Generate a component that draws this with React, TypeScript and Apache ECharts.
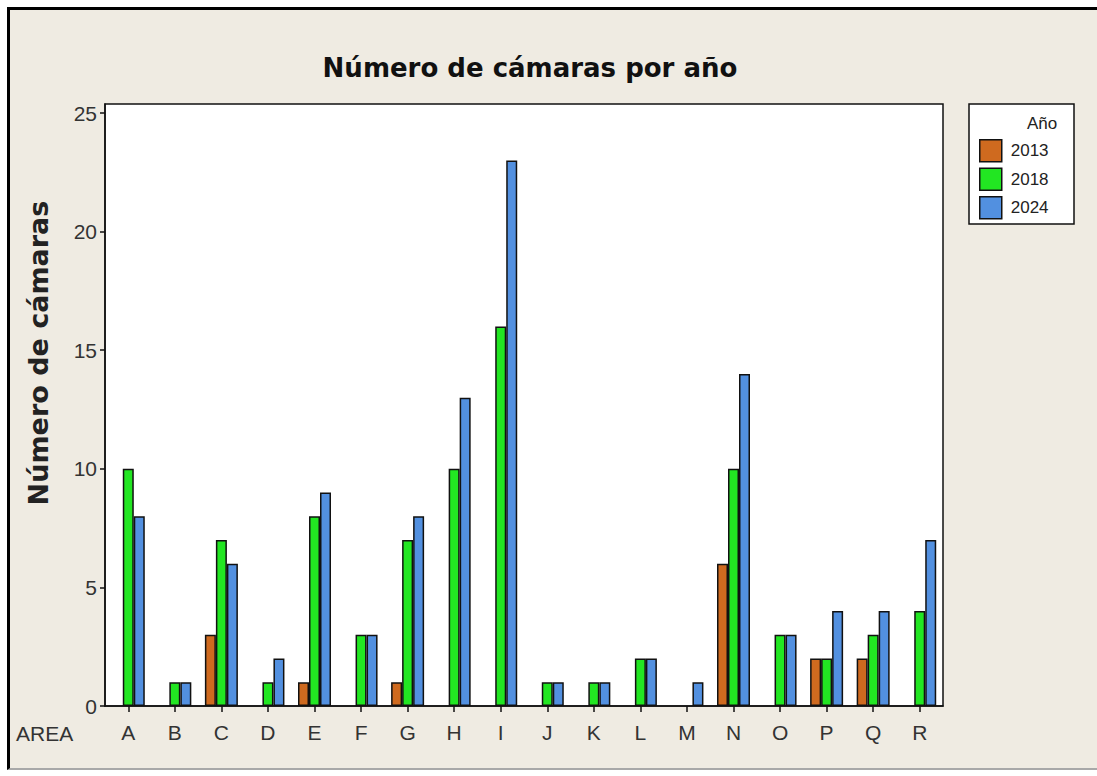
import React, { useEffect, useRef } from "react";
import * as echarts from "echarts";

const areas = ["A", "B", "C", "D", "E", "F", "G", "H", "I", "J", "K", "L", "M", "N", "O", "P", "Q", "R"];
const years = ["2013", "2018", "2024"];
const v2013 = [null, null, 3, null, 1, null, 1, null, null, null, null, null, null, 6, null, 2, 2, null];
const v2018 = [10, 1, 7, 1, 8, 3, 7, 10, 16, 1, 1, 2, null, 10, 3, 2, 3, 4];
const v2024 = [8, 1, 6, 2, 9, 3, 8, 13, 23, 1, 1, 2, 1, 14, 3, 4, 4, 7];
const yTicks = [0, 5, 10, 15, 20, 25];
const colors = ["#cf6a1f", "#22e622", "#5290e0"];

const title = "Número de cámaras por año";
const yName = "Número de cámaras";
const xName = "AREA";
const legendTitle = "Año";

export default function App() {
  const ref = useRef<HTMLDivElement>(null);
  useEffect(() => {
    if (!ref.current) return;
    const chart = echarts.init(ref.current, null, { renderer: "svg" });
    const seriesData = [v2013, v2018, v2024];
    chart.setOption({
      animation: false,
      backgroundColor: "#efebe2",
      textStyle: { fontFamily: "Liberation Sans" },
      grid: {
        left: 95,
        top: 94,
        width: 838,
        height: 602,
        show: true,
        backgroundColor: "#ffffff",
        borderColor: "#111",
        borderWidth: 1.5,
        containLabel: false,
      },
      xAxis: {
        type: "category",
        data: areas,
        axisLine: { show: true, lineStyle: { color: "#111", width: 1.5 } },
        axisTick: { show: true, alignWithLabel: true, length: 6, lineStyle: { color: "#111", width: 1.5 } },
        axisLabel: { color: "#333", fontSize: 21, margin: 16, fontFamily: "Liberation Sans" },
        splitLine: { show: false },
      },
      yAxis: {
        type: "value",
        min: 0,
        max: 25.38,
        interval: 5,
        axisLine: { show: true, lineStyle: { color: "#111", width: 1.5 } },
        axisTick: { show: true, length: 5, customValues: yTicks, lineStyle: { color: "#111", width: 1.5 } },
        axisLabel: { color: "#333", fontSize: 21, margin: 8, customValues: yTicks, fontFamily: "Liberation Sans" },
        splitLine: { show: false },
      },
      legend: {
        data: years,
        orient: "vertical",
        left: 969,
        top: 129,
        padding: 0,
        itemWidth: 22,
        itemHeight: 22,
        itemGap: 5,
        icon: "rect",
        textStyle: { fontSize: 17, color: "#222", fontFamily: "Liberation Sans", padding: [0, 0, 0, 4] },
        itemStyle: { borderColor: "#111", borderWidth: 1.5 },
      },
      graphic: [
        {
          type: "rect",
          shape: { x: 959, y: 94, width: 105, height: 120 },
          style: { fill: "#ffffff", stroke: "#111", lineWidth: 1.5 },
          z: -1,
        },
        {
          type: "text",
          x: 1032,
          y: 113,
          style: { text: legendTitle, fontSize: 17, fill: "#222", align: "center", verticalAlign: "middle", fontFamily: "Liberation Sans" },
        },
        {
          type: "text",
          x: 520,
          y: 58,
          style: { text: title, fontSize: 26, fontWeight: "bold", fill: "#111", align: "center", verticalAlign: "middle", fontFamily: "DejaVu Sans" },
        },
        {
          type: "text",
          x: 28,
          y: 343,
          rotation: Math.PI / 2,
          style: { text: yName, fontSize: 27, fontWeight: "bold", fill: "#222", align: "center", verticalAlign: "middle", fontFamily: "DejaVu Sans" },
        },
        {
          type: "text",
          x: 6,
          y: 723,
          style: { text: xName, fontSize: 21, fill: "#333", align: "left", verticalAlign: "middle", fontFamily: "Liberation Sans" },
        },
      ],
      series: years.map((y, i) => ({
        name: y,
        type: "bar",
        data: seriesData[i],
        barWidth: 11,
        barGap: "0%",
        itemStyle: { color: colors[i], borderColor: "#111", borderWidth: 1.5 },
      })),
    });
    return () => chart.dispose();
  }, []);
  return (
    <div
      style={{
        position: "absolute",
        left: 7,
        top: 7,
        width: 1090,
        height: 763,
        boxSizing: "border-box",
        borderTop: "3px solid #000",
        borderLeft: "3px solid #000",
        borderBottom: "2px solid #a8a8a8",
        background: "#efebe2",
      }}
    >
      <div ref={ref} style={{ width: 1087, height: 758 }} />
    </div>
  );
}
